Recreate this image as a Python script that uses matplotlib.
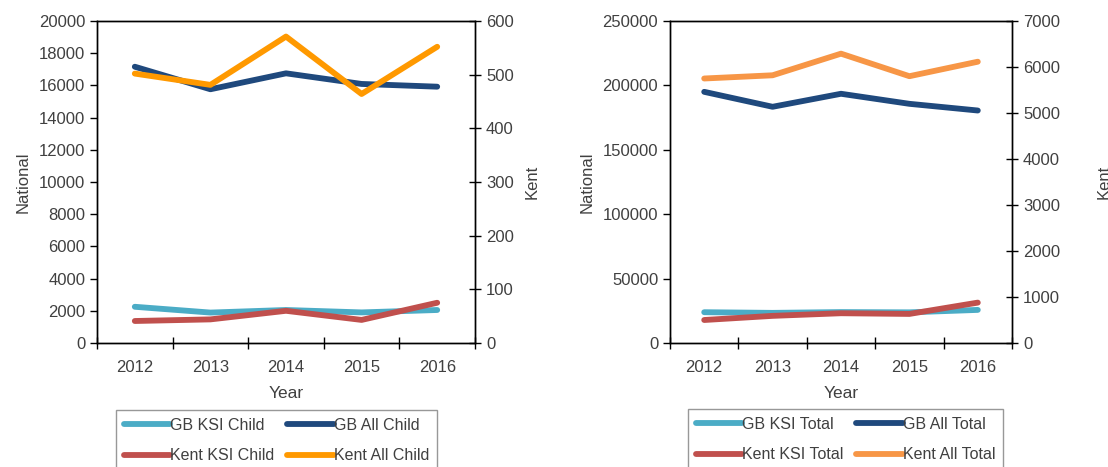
import matplotlib
matplotlib.use("Agg")
import matplotlib.pyplot as plt

plt.rcParams["font.family"] = ["Liberation Sans", "DejaVu Sans"]

years = ["2012", "2013", "2014", "2015", "2016"]

# child casualties
gb_ksi_child = [2250, 1890, 2050, 1900, 2050]
gb_all_child = [17160, 15760, 16750, 16090, 15920]
kent_ksi_child = [41, 44, 60, 43, 75]
kent_all_child = [502, 481, 571, 464, 552]

# total casualties
gb_ksi_total = [23900, 23400, 24000, 23800, 25700]
gb_all_total = [195000, 183400, 193500, 185700, 180500]
kent_ksi_total = [500, 590, 647, 632, 878]
kent_all_total = [5750, 5820, 6290, 5800, 6115]

C_CYAN = "#4BACC6"
C_NAVY = "#1F497D"
C_RED = "#C0504D"
TXT = "#404040"

fig = plt.figure(figsize=(11.08, 4.67), dpi=100)


def panel(rect, gb_ksi, gb_all, k_ksi, k_all, ylim_l, yt_l, ylim_r, yt_r,
          orange, suffix, leg_anchor, kent_pad):
    ax = fig.add_axes(rect)
    ax2 = ax.twinx()
    x = list(range(len(years)))
    lw = 4.2
    h1, = ax.plot(x, gb_ksi, color=C_CYAN, lw=lw, solid_capstyle="round",
                  label=f"GB KSI {suffix}")
    h2, = ax.plot(x, gb_all, color=C_NAVY, lw=lw, solid_capstyle="round",
                  label=f"GB All {suffix}")
    h3, = ax2.plot(x, k_ksi, color=C_RED, lw=lw, solid_capstyle="round",
                   label=f"Kent KSI {suffix}")
    h4, = ax2.plot(x, k_all, color=orange, lw=lw, solid_capstyle="round",
                   label=f"Kent All {suffix}")
    ax.set_xlim(-0.5, len(years) - 0.5)
    ax.set_ylim(*ylim_l)
    ax.set_yticks(yt_l)
    ax2.set_ylim(*ylim_r)
    ax2.set_yticks(yt_r)
    ax.set_xticks(x)
    ax.set_xticklabels(years)
    ax.set_xticks([i - 0.5 for i in range(len(years) + 1)], minor=True)
    ax.tick_params(axis="x", which="major", length=0, pad=12, labelsize=12,
                   labelcolor=TXT)
    ax.tick_params(axis="x", which="minor", length=9, direction="inout",
                   color="#000000", width=1)
    ax.tick_params(axis="y", length=5, direction="out", labelsize=12,
                   labelcolor=TXT, width=1)
    ax2.tick_params(axis="y", length=9, direction="inout", labelsize=12,
                    labelcolor=TXT, width=1)
    for a in (ax, ax2):
        for s in a.spines.values():
            s.set_color("#000000")
            s.set_linewidth(1)
    ax.set_xlabel("Year", fontsize=12.5, color=TXT, labelpad=8)
    ax.set_ylabel("National", fontsize=12, color=TXT, labelpad=6)
    ax2.set_ylabel("Kent", fontsize=12, color=TXT, labelpad=kent_pad)
    leg = fig.legend([h1, h3, h2, h4],
                     [h.get_label() for h in (h1, h3, h2, h4)],
                     loc="upper left", bbox_to_anchor=leg_anchor, ncol=2,
                     fontsize=11.5, frameon=True, fancybox=False,
                     handlelength=2.9, handletextpad=0.0, columnspacing=0.8,
                     labelspacing=0.95, borderpad=0.5, borderaxespad=0)
    leg.get_frame().set_edgecolor("#7f7f7f")
    leg.get_frame().set_linewidth(1)
    for t in leg.get_texts():
        t.set_color(TXT)
    return ax


panel([97 / 1108, 1 - 343 / 467, 378 / 1108, 322 / 467],
      gb_ksi_child, gb_all_child, kent_ksi_child, kent_all_child,
      (0, 20000), range(0, 20001, 2000), (0, 600), range(0, 601, 100),
      "#FF9900", "Child", (116 / 1108, 1 - 410 / 467), 8)

panel([670 / 1108, 1 - 343 / 467, 342 / 1108, 322 / 467],
      gb_ksi_total, gb_all_total, kent_ksi_total, kent_all_total,
      (0, 250000), range(0, 250001, 50000), (0, 7000), range(0, 7001, 1000),
      "#F79646", "Total", (688 / 1108, 1 - 409 / 467), 26)

fig.savefig("out.png", dpi=100)
